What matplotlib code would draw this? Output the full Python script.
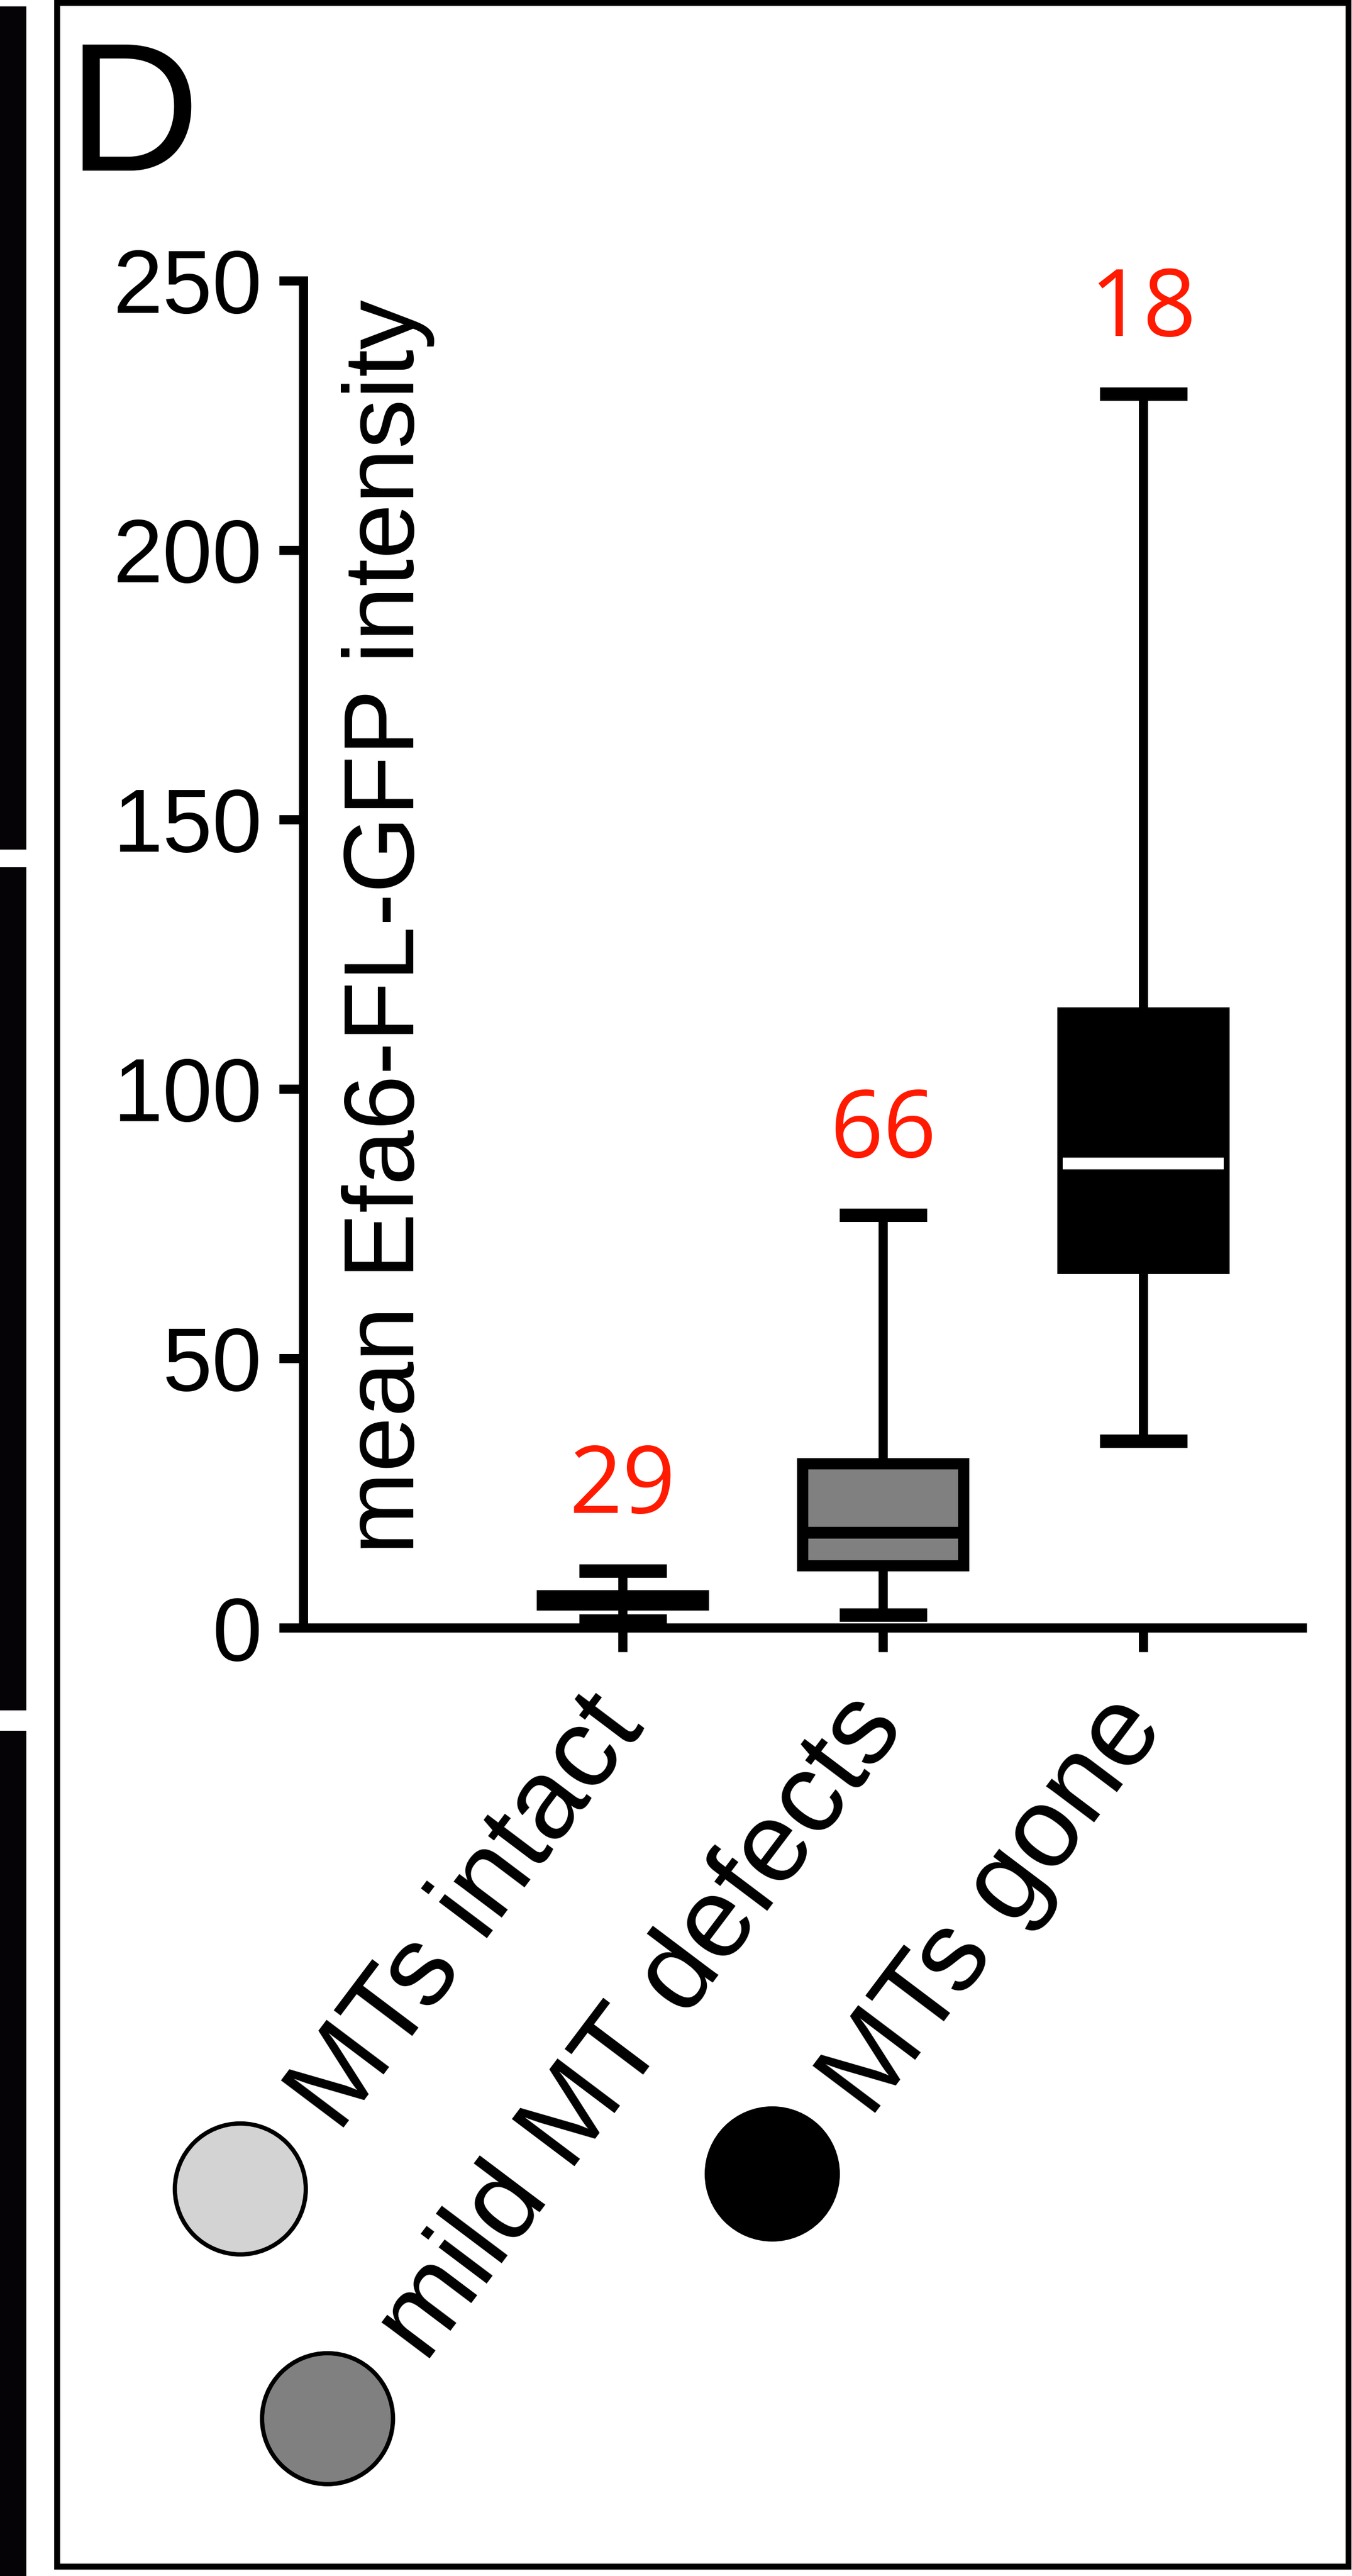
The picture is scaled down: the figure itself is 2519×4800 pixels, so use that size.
import matplotlib
matplotlib.use('Agg')
import matplotlib.pyplot as plt
import numpy as np
from matplotlib.patches import Rectangle, Circle
from matplotlib.transforms import IdentityTransform
from matplotlib.font_manager import FontProperties

# ---------------- data ----------------
categories = ['MTs intact', 'mild MT defects', 'MTs gone']
whisker_low = [1.3, 2.4, 34.7]
q1 = [4.3, 11.6, 66.7]
median = [5.0, 17.6, 86.2]
q3 = [6.0, 30.5, 114.1]
whisker_high = [10.6, 76.6, 229.0]
n_labels = ['29', '66', '18']
box_colors = ['#d3d3d3', '#808080', '#000000']
median_colors = ['#000000', '#000000', '#ffffff']
yticks = [0, 50, 100, 150, 200, 250]
ylabel = 'mean Efa6-FL-GFP intensity'
panel_letter = 'D'

# ---------------- layout ----------------
W, H = 2519, 4800
DPI = 100
PT = 72 / DPI  # points per pixel
ID = IdentityTransform()
SANS = ['Liberation Sans', 'DejaVu Sans']

fig = plt.figure(figsize=(W / DPI, H / DPI), dpi=DPI)
fig.patch.set_facecolor('white')

ax = fig.add_axes([565 / W, 1 - 3033 / H, (2426 - 565) / W, (3033 - 523) / H])
ax.set_xlim(-1.227, 2.61)
ax.set_ylim(0, 250)
ax.patch.set_visible(False)
for s in ['top', 'right']:
    ax.spines[s].set_visible(False)
for s in ['left', 'bottom']:
    ax.spines[s].set_linewidth(17 * PT)

ax.set_yticks(yticks)
ax.set_yticklabels([str(v) for v in yticks], fontfamily=SANS, fontsize=120)
ax.tick_params(axis='y', length=45 * PT, width=17 * PT, pad=23, direction='out')
ax.set_xticks(range(len(categories)))
ax.tick_params(axis='x', length=45 * PT, width=17 * PT, direction='out',
               labelbottom=False)

stats = [dict(med=m, q1=a, q3=b, whislo=lo, whishi=hi, label=c)
         for c, lo, a, m, b, hi in zip(categories, whisker_low, q1, median, q3, whisker_high)]
bp = ax.bxp(stats, positions=list(range(len(categories))), widths=0.62, capwidths=0.336,
            patch_artist=True, showfliers=False, manage_ticks=False,
            boxprops=dict(linewidth=21 * PT, edgecolor='black'),
            whiskerprops=dict(linewidth=17 * PT, color='black'),
            capprops=dict(linewidth=25 * PT, color='black', solid_capstyle='butt'),
            medianprops=dict(linewidth=22 * PT, solid_capstyle='butt'))
for patch, fc in zip(bp['boxes'], box_colors):
    patch.set_facecolor(fc)
    patch.set_joinstyle('miter')
for med, mc in zip(bp['medians'], median_colors):
    med.set_color(mc)
for key in bp:
    for art in bp[key]:
        art.set_clip_on(False)

# n labels (red)
for i, (hi, n) in enumerate(zip(whisker_high, n_labels)):
    ax.annotate(n, xy=(i, hi), xytext=(0, 108), textcoords='offset pixels',
                ha='center', va='baseline', color='#ff1a00', fontsize=125,
                fontfamily=['Open Sans', 'DejaVu Sans'], annotation_clip=False)

# y label
fig.text(771, H - 1727, ylabel, transform=ID, rotation=90, rotation_mode='anchor',
         ha='center', va='baseline', fontsize=133, fontfamily=SANS)

# panel letter
fig.text(126 / W, 1 - 318 / H, panel_letter, fontsize=246, ha='left', va='baseline',
         fontfamily=SANS)

# rotated category labels with colour key circles
fig.canvas.draw()
renderer = fig.canvas.get_renderer()
ROT = 53
ang = np.deg2rad(ROT)
d = np.array([np.cos(ang), np.sin(ang)])
u = np.array([-np.sin(ang), np.cos(ang)])
fp = FontProperties(family=SANS, size=152)
for i, (lab, col) in enumerate(zip(categories, box_colors)):
    tx, ty = ax.transData.transform((i, 0))
    end = np.array([tx + 42, ty - 186])
    w, h, dsc = renderer.get_text_width_height_descent(lab, fp, ismath=False)
    fig.text(end[0], end[1], lab, transform=ID, rotation=ROT, rotation_mode='anchor',
             ha='right', va='baseline', fontproperties=fp)
    start = end - w * d
    c = start - 190 * d + 85 * u
    fig.add_artist(Circle((c[0], c[1]), 122, transform=ID, facecolor=col,
                          edgecolor='black', linewidth=8 * PT))

# panel frame and neighbouring panel bars
def img_rect(x0, y0, x1, y1, **kw):
    return Rectangle((x0, H - y1), x1 - x0, y1 - y0, transform=ID, **kw)

for (y0, y1) in [(12, 1583), (1616, 3187), (3225, 4800)]:
    fig.add_artist(img_rect(0, y0, 49, y1, facecolor='#060306', edgecolor='none'))
fig.add_artist(img_rect(106, 5, 2512, 4782, fill=False, edgecolor='black',
                        linewidth=11 * PT))

fig.savefig('out.png', dpi=DPI, facecolor='white')
